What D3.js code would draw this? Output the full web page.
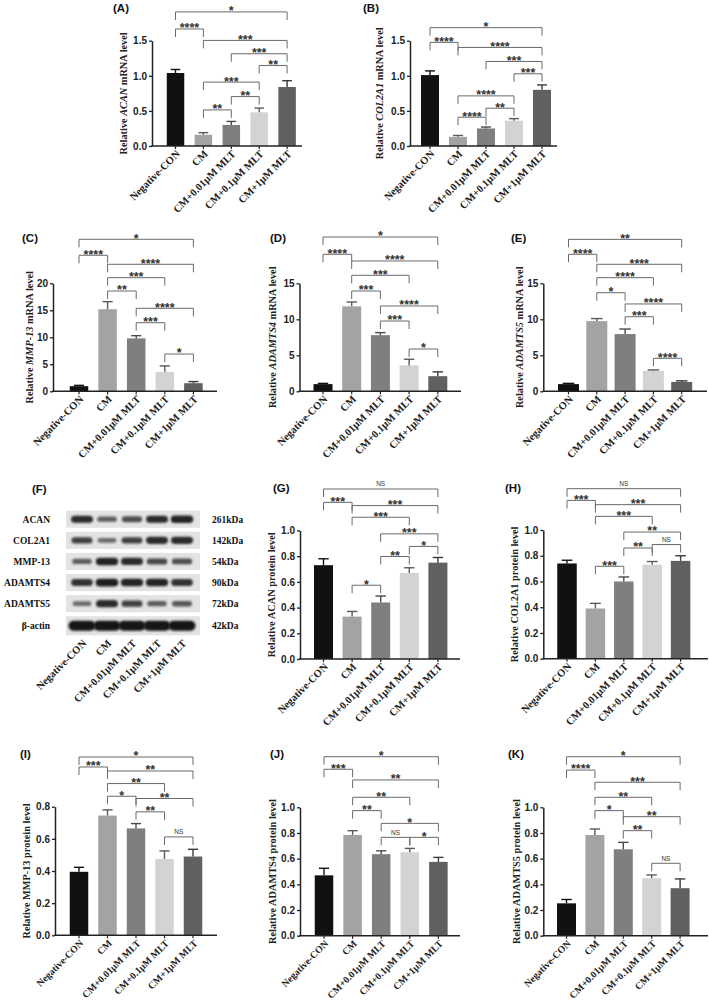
<!DOCTYPE html>
<html><head><meta charset="utf-8">
<script src="https://cdn.jsdelivr.net/npm/d3@7"></script>
<style>body{margin:0;background:#fff} svg{display:block}</style>
</head><body><svg id="c" width="709" height="1002"></svg>
<script>
const categories = ["Negative-CON","CM","CM+0.01\u03bcM MLT","CM+0.1\u03bcM MLT","CM+1\u03bcM MLT"];

// (A) ACAN mRNA
const acanMrna = [1.04,0.16,0.30,0.48,0.84];
const acanMrnaSd = [0.05,0.03,0.05,0.06,0.09];
const acanMrnaSig = [[0,4,"*",1.91],[0,1,"****",1.667],[1,4,"***",1.504],[2,4,"***",1.314],[3,4,"**",1.147],[1,3,"***",0.91],[2,3,"**",0.704],[1,2,"**",0.514]];
// (B) COL2A1 mRNA
const col2a1Mrna = [1.01,0.13,0.25,0.36,0.80];
const col2a1MrnaSd = [0.06,0.02,0.02,0.03,0.07];
const col2a1MrnaSig = [[0,4,"*",1.686],[0,1,"****",1.476],[1,4,"****",1.404],[2,4,"***",1.204],[3,4,"***",1.029],[1,3,"****",0.714],[2,3,"**",0.538],[1,2,"****",0.41]];
// (C) MMP-13 mRNA
const mmp13Mrna = [0.95,15.2,9.8,3.6,1.5];
const mmp13MrnaSd = [0.15,1.4,0.5,1.1,0.3];
const mmp13MrnaSig = [[0,4,"*",28.15],[0,1,"****",25.19],[1,4,"****",23.52],[1,3,"***",21.04],[1,2,"**",18.57],[2,4,"****",15.37],[2,3,"***",12.7],[3,4,"*",6.9]];
// (D) ADAMTS4 mRNA
const adamts4Mrna = [1.0,11.8,7.8,3.6,2.1];
const adamts4MrnaSd = [0.1,0.6,0.35,0.85,0.6];
const adamts4MrnaSig = [[0,4,"*",21.43],[0,1,"****",19.03],[1,4,"****",18.1],[1,3,"***",16.11],[1,2,"***",13.93],[2,4,"****",11.85],[2,3,"***",9.76],[3,4,"*",5.875]];
// (E) ADAMTS5 mRNA
const adamts5Mrna = [1.0,9.75,7.95,2.85,1.3];
const adamts5MrnaSd = [0.1,0.35,0.7,0.12,0.15];
const adamts5MrnaSig = [[0,4,"**",21.1],[0,1,"****",19.03],[1,4,"****",17.64],[1,3,"****",15.78],[1,2,"*",13.69],[2,4,"****",12.13],[2,3,"***",10.36],[3,4,"****",4.58]];
// (G) ACAN protein
const acanProt = [0.73,0.33,0.44,0.67,0.75];
const acanProtSd = [0.05,0.04,0.05,0.04,0.04];
const acanProtSig = [[0,4,"NS",1.323],[0,1,"***",1.219],[1,4,"***",1.194],[1,3,"***",1.103],[2,4,"***",0.974],[3,4,"*",0.876],[2,3,"**",0.798],[1,2,"*",0.574]];
// (H) COL2A1 protein
const col2a1Prot = [0.74,0.39,0.60,0.73,0.76];
const col2a1ProtSd = [0.025,0.04,0.035,0.025,0.04];
const col2a1ProtSig = [[0,4,"NS",1.321],[0,1,"***",1.23],[1,4,"***",1.197],[1,3,"***",1.106],[2,4,"**",0.984],[3,4,"NS",0.887],[2,3,"**",0.86],[1,2,"***",0.718]];
// (I) MMP-13 protein
const mmp13Prot = [0.395,0.745,0.665,0.475,0.49];
const mmp13ProtSd = [0.028,0.035,0.03,0.05,0.045];
const mmp13ProtSig = [[0,4,"*",1.109],[0,1,"***",1.047],[1,4,"**",1.022],[1,3,"**",0.944],[1,2,"*",0.865],[2,4,"**",0.851],[2,3,"**",0.768],[3,4,"NS",0.612]];
// (J) ADAMTS4 protein
const adamts4Prot = [0.47,0.785,0.635,0.65,0.575];
const adamts4ProtSd = [0.055,0.033,0.026,0.03,0.035];
const adamts4ProtSig = [[0,4,"*",1.394],[0,1,"***",1.296],[1,4,"**",1.213],[1,3,"**",1.078],[1,2,"**",0.974],[2,4,"*",0.875],[2,3,"NS",0.766],[3,4,"*",0.766]];
// (K) ADAMTS5 protein
const adamts5Prot = [0.252,0.784,0.673,0.447,0.37];
const adamts5ProtSd = [0.03,0.047,0.054,0.026,0.072];
const adamts5ProtSig = [[0,4,"*",1.394],[0,1,"****",1.29],[1,4,"***",1.195],[1,3,"**",1.078],[1,2,"*",0.974],[2,4,"**",0.927],[2,3,"**",0.818],[3,4,"NS",0.564]];

// y tick values
const yTicksAB = [0, 0.5, 1.0, 1.5];
const yTicksC = [0, 5, 10, 15, 20];
const yTicksDE = [0, 5, 10, 15];
const yTicksProt = [0, 0.2, 0.4, 0.6, 0.8, 1.0];
const yTicksI = [0, 0.2, 0.4, 0.6, 0.8];

// (F) western blot (relative band strength)
const blotProteins = ["ACAN","COL2A1","MMP-13","ADAMTS4","ADAMTS5","\u03b2-actin"];
const blotKDa = ["261kDa","142kDa","54kDa","90kDa","72kDa","42kDa"];
const bandACAN = [0.85,0.5,0.6,0.85,0.9];
const bandCOL2A1 = [0.7,0.4,0.7,0.85,0.85];
const bandMMP13 = [0.5,0.9,0.85,0.65,0.6];
const bandADAMTS4 = [0.8,0.95,0.9,0.9,0.8];
const bandADAMTS5 = [0.4,0.85,0.7,0.5,0.55];
const bandActin = [1,1,1,1,1];

// ---------------- styling / layout ----------------
const SERIF = "'Liberation Serif','Times New Roman',serif";
const SANS = "'Liberation Sans',Arial,sans-serif";
const barFill = ["#111111","#a3a3a3","#7f7f7f","#d3d3d3","#606060"];
const errColor = ["#111111","#5a5a5a","#4a4a4a","#5a5a5a","#3a3a3a"];

const svg = d3.select("#c");
svg.append("rect").attr("width",709).attr("height",1002).attr("fill","#fff");

const panels = [
 {L:"A", v:acanMrna, sd:acanMrnaSd, sig:acanMrnaSig, ticks:yTicksAB, fmt:".1f", lab:["Relative ","ACAN"," mRNA level"],
  g:{x0:152,x1:302,c0:175.5,step:27.9,bw:17.5,yTop:40.7,y0:146,lab:25.5,lx:113,ly:12,cf:10.5}},
 {L:"B", v:col2a1Mrna, sd:col2a1MrnaSd, sig:col2a1MrnaSig, ticks:yTicksAB, fmt:".1f", lab:["Relative ","COL2A1"," mRNA level"],
  g:{x0:410,x1:557,c0:430,step:28,bw:18,yTop:40.7,y0:146,lab:27.5,lx:363,ly:12,cf:10.5}},
 {L:"C", v:mmp13Mrna, sd:mmp13MrnaSd, sig:mmp13MrnaSig, ticks:yTicksC, fmt:"d", lab:["Relative ","MMP-13"," mRNA level"],
  g:{x0:53,x1:217,c0:79,step:28.6,bw:18.5,yTop:283.3,y0:391.3,lab:20.5,lx:22,ly:242,cf:10.5}},
 {L:"D", v:adamts4Mrna, sd:adamts4MrnaSd, sig:adamts4MrnaSig, ticks:yTicksDE, fmt:"d", lab:["Relative ","ADAMTS4"," mRNA level"],
  g:{x0:299.5,x1:461,c0:323,step:28.7,bw:19,yTop:283.3,y0:391.3,lab:24,lx:270,ly:242,cf:10.5}},
 {L:"E", v:adamts5Mrna, sd:adamts5MrnaSd, sig:adamts5MrnaSig, ticks:yTicksDE, fmt:"d", lab:["Relative ","ADAMTS5"," mRNA level"],
  g:{x0:543.3,x1:707,c0:568.5,step:28.3,bw:21,yTop:283.3,y0:391.3,lab:20.5,lx:511,ly:242,cf:10.5}},
 {L:"G", v:acanProt, sd:acanProtSd, sig:acanProtSig, ticks:yTicksProt, fmt:".1f", lab:["Relative ACAN protein level","",""],
  g:{x0:300,x1:460,c0:323.5,step:28.6,bw:19,yTop:530.5,y0:659,lab:25.5,lx:273,ly:492,cf:10.5}},
 {L:"H", v:col2a1Prot, sd:col2a1ProtSd, sig:col2a1ProtSig, ticks:yTicksProt, fmt:".1f", lab:["Relative COL2A1 protein level","",""],
  g:{x0:543.3,x1:708,c0:567,step:28.4,bw:19.5,yTop:530,y0:658.7,lab:25.8,lx:505,ly:492,cf:10.5}},
 {L:"I", v:mmp13Prot, sd:mmp13ProtSd, sig:mmp13ProtSig, ticks:yTicksI, fmt:".1f", lab:["Relative MMP-13 protein level","",""],
  g:{x0:55,x1:217,c0:79,step:28.5,bw:18.5,yTop:806.7,y0:935.3,lab:25.5,lx:20,ly:758,cf:9.8}},
 {L:"J", v:adamts4Prot, sd:adamts4ProtSd, sig:adamts4ProtSig, ticks:yTicksProt, fmt:".1f", lab:["Relative ADAMTS4 protein level","",""],
  g:{x0:300,x1:460,c0:324,step:28.6,bw:18.5,yTop:807.3,y0:935.7,lab:24.5,lx:270,ly:758,cf:9.8}},
 {L:"K", v:adamts5Prot, sd:adamts5ProtSd, sig:adamts5ProtSig, ticks:yTicksProt, fmt:".1f", lab:["Relative ADAMTS5 protein level","",""],
  g:{x0:543.3,x1:708,c0:566.5,step:28.4,bw:19,yTop:807.3,y0:935.7,lab:23.8,lx:508,ly:758,cf:9.8}}
];

function panelLetter(L, x, y){
  svg.append("text").attr("x",x).attr("y",y).attr("font-family",SANS).attr("font-weight","bold")
    .attr("font-size",11.5).attr("fill","#111").text("("+L+")");
}

function drawPanel(p){
  const G = p.g, n = categories.length;
  const pi = 1 - G.bw/G.step;
  const x = d3.scaleBand().domain(d3.range(n))
    .range([G.c0 - G.step/2, G.c0 + G.step*(n-0.5)])
    .paddingInner(pi).paddingOuter(pi/2);
  const cx = i => x(i) + x.bandwidth()/2;
  const maxT = p.ticks[p.ticks.length-1];
  const y = d3.scaleLinear().domain([0, maxT]).range([G.y0, G.yTop]);
  const g = svg.append("g");

  // bars
  g.selectAll("rect.bar").data(p.v).join("rect").attr("class","bar")
    .attr("x",(d,i)=>x(i)).attr("width",x.bandwidth())
    .attr("y",d=>y(d)).attr("height",d=>y(0)-y(d))
    .attr("fill",(d,i)=>barFill[i]);
  // error bars (upper)
  const cap = x.bandwidth()*0.55;
  p.v.forEach((d,i)=>{
    const top = y(d + p.sd[i]);
    g.append("line").attr("x1",cx(i)).attr("x2",cx(i)).attr("y1",y(d)).attr("y2",top)
      .attr("stroke",errColor[i]).attr("stroke-width",1.4);
    g.append("line").attr("x1",cx(i)-cap/2).attr("x2",cx(i)+cap/2).attr("y1",top).attr("y2",top)
      .attr("stroke",errColor[i]).attr("stroke-width",1.4);
  });

  // y axis
  const ya = g.append("g").attr("transform",`translate(${G.x0},0)`)
    .call(d3.axisLeft(y).tickValues(p.ticks).tickSize(3).tickSizeOuter(0).tickFormat(d3.format(p.fmt)));
  ya.select(".domain").attr("stroke","#222").attr("stroke-width",1.5);
  ya.selectAll(".tick line").attr("stroke","#222").attr("stroke-width",1.3);
  ya.selectAll(".tick text").attr("font-family",SANS).attr("font-weight","bold").attr("font-size",10)
    .attr("fill","#222").attr("x",-5);

  // x axis
  const xa = g.append("g").attr("transform",`translate(0,${G.y0})`)
    .call(d3.axisBottom(x).tickSize(3).tickSizeOuter(0).tickFormat(i=>categories[i]));
  xa.select(".domain").remove();
  xa.selectAll(".tick line").attr("stroke","#222").attr("stroke-width",1.2);
  xa.selectAll(".tick text").attr("font-family",SERIF).attr("font-weight","bold").attr("font-size",G.cf)
    .attr("fill","#222").attr("text-anchor","end").attr("x",null).attr("y",null).attr("dy",null)
    .attr("transform","translate(5,8.5) rotate(-45)");
  g.append("line").attr("x1",G.x0-0.75).attr("x2",G.x1).attr("y1",G.y0).attr("y2",G.y0)
    .attr("stroke","#222").attr("stroke-width",1.5);

  // y label
  const t = g.append("text").attr("transform",`translate(${G.x0-G.lab},${(G.y0+G.yTop)/2}) rotate(-90)`)
    .attr("text-anchor","middle").attr("font-family",SERIF).attr("font-weight","bold")
    .attr("font-size",10.3).attr("fill","#222");
  t.append("tspan").text(p.lab[0]);
  if (p.lab[1]) t.append("tspan").attr("font-style","italic").text(p.lab[1]);
  if (p.lab[2]) t.append("tspan").text(p.lab[2]);

  // significance brackets
  p.sig.forEach(([a,b,lab,lev])=>{
    const yy = y(lev), xa1 = cx(a), xb1 = cx(b);
    g.append("path").attr("d",`M${xa1},${yy+8}V${yy}H${xb1}V${yy+8}`)
      .attr("fill","none").attr("stroke","#6a6a6a").attr("stroke-width",1);
    const isNS = lab === "NS";
    g.append("text").attr("x",(xa1+xb1)/2).attr("y",isNS ? yy-2.5 : yy+3.4)
      .attr("text-anchor","middle").attr("font-family",SANS).attr("font-weight",isNS?"normal":"bold")
      .attr("font-size",isNS?6.5:12.5).attr("fill","#333").text(lab);
  });

  panelLetter(p.L, G.lx, G.ly);
}

panels.forEach(drawPanel);

// ---------------- (F) western blot ----------------
(function(){
  const bands = [bandACAN,bandCOL2A1,bandMMP13,bandADAMTS4,bandADAMTS5,bandActin];
  const defs = svg.append("defs");
  defs.append("filter").attr("id","blur").attr("x","-30%").attr("y","-80%").attr("width","160%").attr("height","260%")
    .append("feGaussianBlur").attr("stdDeviation",1.1);
  const rowY = d3.scaleBand().domain(d3.range(blotProteins.length)).range([509,635]).paddingInner(0.19).paddingOuter(0.08);
  const lane = d3.scaleBand().domain(d3.range(categories.length)).range([69.5,194.5]);
  const g = svg.append("g");
  blotProteins.forEach((name,r)=>{
    const top = rowY(r), h = rowY.bandwidth() + (r===5 ? 2 : 0);
    const cy = top + h/2;
    g.append("rect").attr("x",66).attr("y",top).attr("width",134).attr("height",h).attr("fill","#e3e3e3");
    bands[r].forEach((s,i)=>{
      const lc = lane(i) + lane.bandwidth()/2;
      const bw = 16 + 7*s + (r===5 ? 4 : 0);
      const bh = (r===5 ? 10 : 2.5 + 5.5*s);
      g.append("rect").attr("x",lc-bw/2).attr("y",cy-bh/2).attr("width",bw).attr("height",bh)
        .attr("rx",bh/2).attr("fill","#151515").attr("opacity",0.3+0.7*s).attr("filter","url(#blur)");
    });
    g.append("text").attr("x",50).attr("y",cy+3.3).attr("text-anchor","end").attr("font-family",SERIF)
      .attr("font-weight","bold").attr("font-size",9.5).attr("fill","#111").text(name);
    g.append("text").attr("x",212).attr("y",cy+3.3).attr("font-family",SERIF)
      .attr("font-weight","bold").attr("font-size",9.5).attr("fill","#111").text(blotKDa[r]);
  });
  categories.forEach((c,i)=>{
    const lc = lane(i) + lane.bandwidth()/2;
    g.append("text").attr("transform",`translate(${lc+5},${644}) rotate(-45)`).attr("text-anchor","end")
      .attr("font-family",SERIF).attr("font-weight","bold").attr("font-size",10.5).attr("fill","#222").text(c);
  });
  panelLetter("F", 32, 493);
})();
</script></body></html>
